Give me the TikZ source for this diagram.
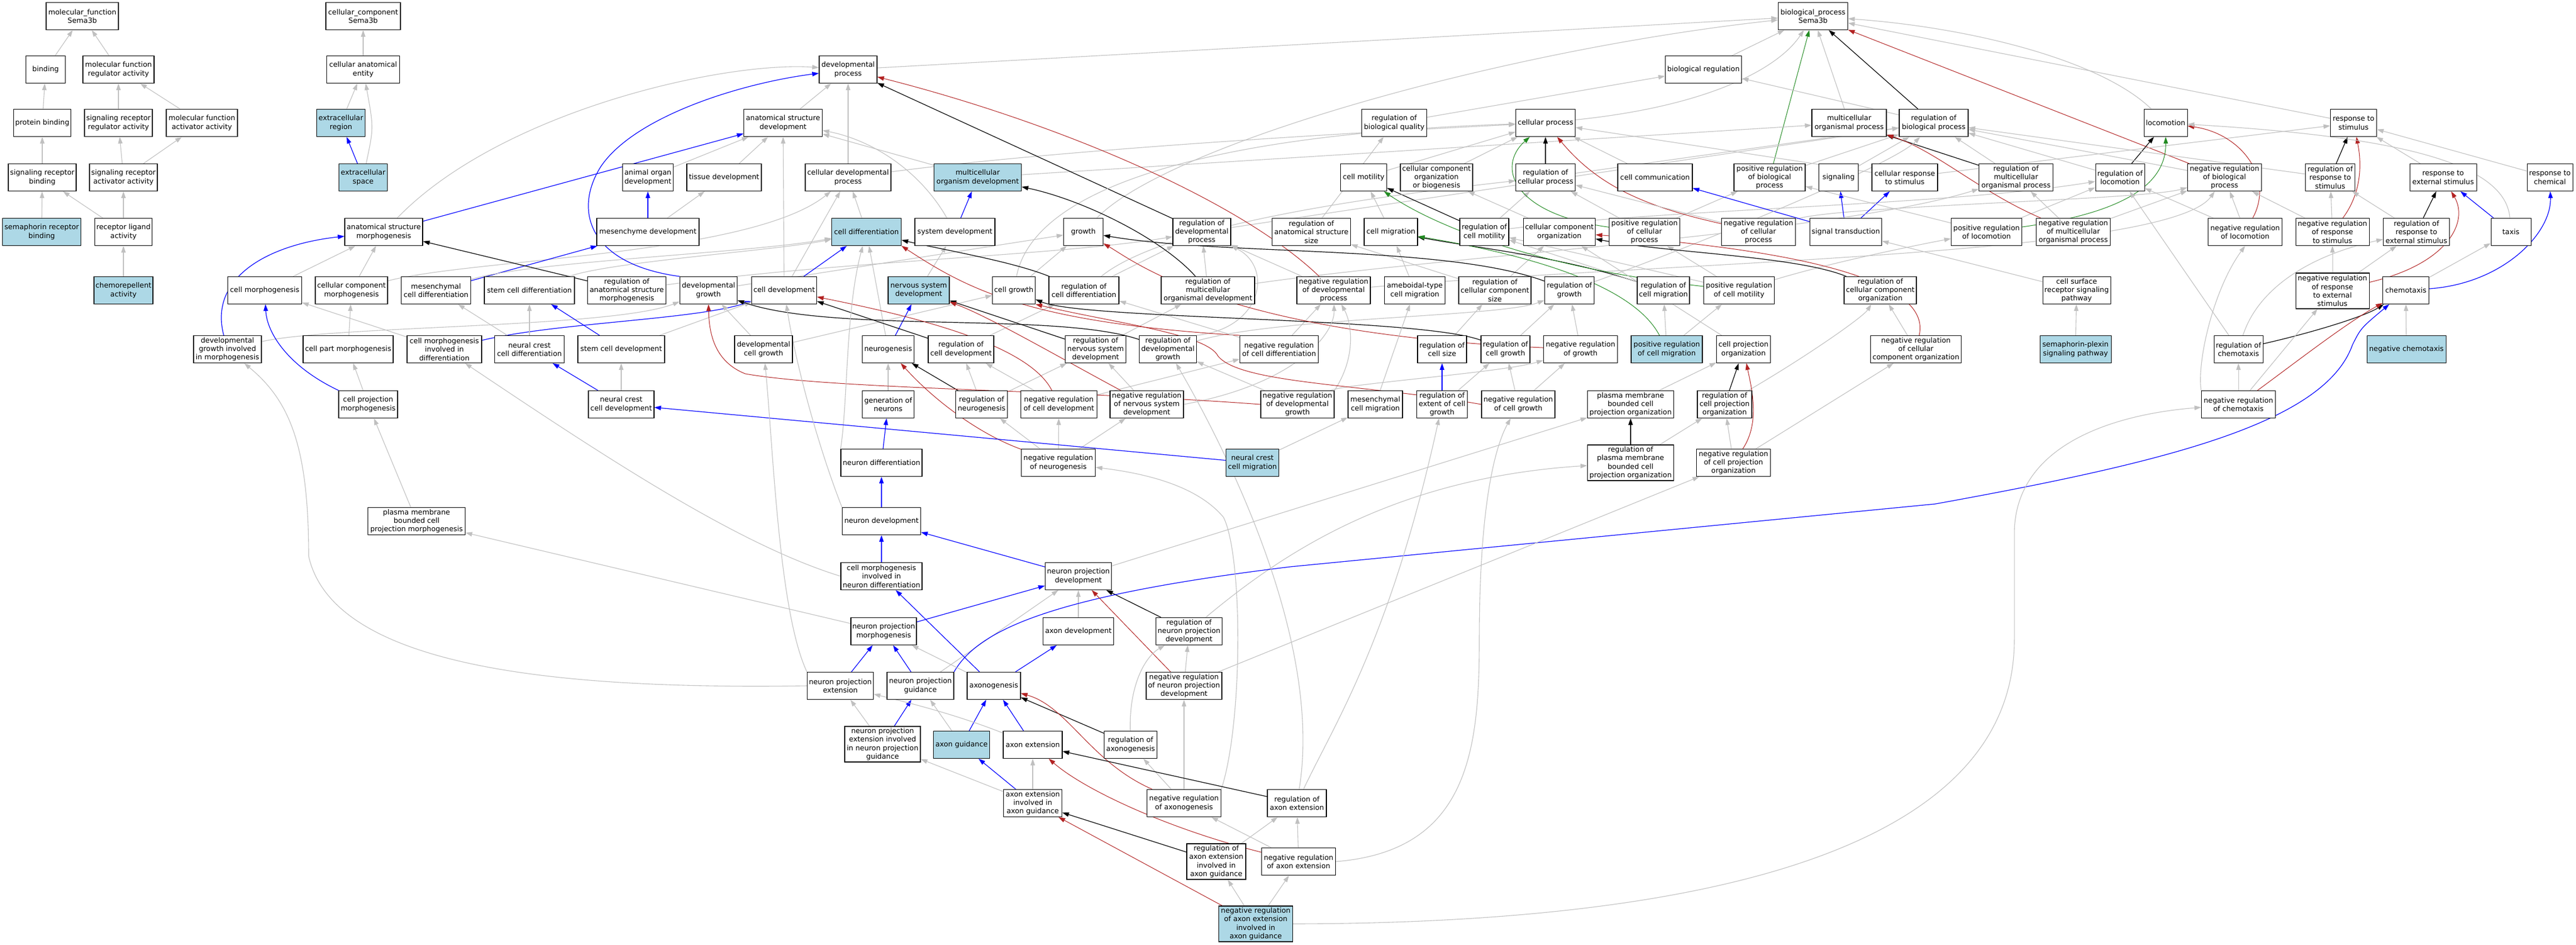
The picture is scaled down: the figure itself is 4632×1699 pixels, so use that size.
\documentclass[tikz,border=0pt]{standalone}
\usepackage{fontspec}
\setmainfont{DejaVu Sans}
\usetikzlibrary{arrows.meta,backgrounds}
\definecolor{egrey}{RGB}{192,192,192}
\definecolor{lb}{RGB}{173,216,230}
\definecolor{ered}{RGB}{178,34,34}
\definecolor{egreen}{RGB}{34,139,34}
\newcommand\gofont{\fontsize{12.8pt}{15.3pt}\selectfont}
\tikzset{
  box/.style={draw=black, line width=1.1pt, fill=white, align=center, inner xsep=2pt, inner ysep=1pt, minimum height=49pt, font=\gofont},
  hl/.style={box, fill=lb},
  tall/.style={minimum height=64pt},
  isa/.style={draw=egrey, line width=1.1pt, -{Triangle[length=12pt,width=8pt]}},
  po/.style={draw=blue, line width=1.2pt, -{Triangle[length=12pt,width=8pt]}},
  reg/.style={draw=black, line width=1.2pt, -{Triangle[length=12pt,width=8pt]}},
  nreg/.style={draw=ered, line width=1.0pt, -{Triangle[length=12pt,width=8pt]}},
  preg/.style={draw=egreen, line width=1.0pt, -{Triangle[length=12pt,width=8pt]}}
}
\begin{document}
\begin{tikzpicture}[x=1pt,y=-1pt]
\useasboundingbox (0,0) rectangle (4632,1699);
% row 0
\node[box,minimum width=130pt] (mf) at (148,29) {molecular\_function\\Sema3b};
\node[box,minimum width=134pt] (cc) at (653,29) {cellular\_component\\Sema3b};
\node[box,minimum width=125pt] (bp) at (3260,29) {biological\_process\\Sema3b};
% row 1
\node[box,minimum width=71pt] (bind) at (82,125) {binding};
\node[box,minimum width=128pt] (mfra) at (213,125) {molecular function\\regulator activity};
\node[box,minimum width=131pt] (cae) at (653,125) {cellular anatomical\\entity};
\node[box,minimum width=104pt] (devp) at (1525,125) {developmental\\process};
\node[box,minimum width=137pt] (bioreg) at (3063,125) {biological regulation};
% row 2
\node[box,minimum width=103pt] (pbind) at (76,221) {protein binding};
\node[box,minimum width=122pt] (srra) at (213,221) {signaling receptor\\regulator activity};
\node[box,minimum width=128pt] (mfaa) at (363,221) {molecular function\\activator activity};
\node[hl,minimum width=87pt] (ecr) at (613,221) {extracellular\\region};
\node[box,minimum width=141pt] (asd) at (1408,221) {anatomical structure\\development};
\node[box,minimum width=117pt] (rbq) at (2507,221) {regulation of\\biological quality};
\node[box,minimum width=107pt] (cellp) at (2779,221) {cellular process};
\node[box,minimum width=134pt] (mop) at (3325,221) {multicellular\\organismal process};
\node[box,minimum width=124pt] (rbp) at (3477,221) {regulation of\\biological process};
\node[box,minimum width=78pt] (loco) at (3894,221) {locomotion};
\node[box,minimum width=83pt] (rstim) at (4232,221) {response to\\stimulus};
% row 3
\node[box,minimum width=122pt] (srb) at (76,319) {signaling receptor\\binding};
\node[box,minimum width=122pt] (sraa) at (222,319) {signaling receptor\\activator activity};
\node[hl,minimum width=87pt] (ecs) at (653,319) {extracellular\\space};
\node[box,minimum width=91pt] (aod) at (1165,319) {animal organ\\development};
\node[box,minimum width=134pt] (tisd) at (1302,319) {tissue development};
\node[box,minimum width=154pt] (cdp) at (1525,319) {cellular developmental\\process};
\node[hl,minimum width=157pt] (mod) at (1758,319) {multicellular\\organism development};
\node[box,minimum width=83pt] (cmot) at (2452,319) {cell motility};
\node[box,minimum width=130pt] (ccob) at (2583,319) {cellular component\\organization\\or biogenesis};
\node[box,minimum width=107pt] (rcp) at (2779,319) {regulation of\\cellular process};
\node[box,minimum width=134pt] (ccom) at (2976,319) {cell communication};
\node[box,minimum width=128pt] (prbp) at (3182,319) {positive regulation\\of biological\\process};
\node[box,minimum width=71pt] (sig) at (3306,319) {signaling};
\node[box,minimum width=118pt] (crs) at (3425,319) {cellular response\\to stimulus};
\node[box,minimum width=133pt] (rmop) at (3625,319) {regulation of\\multicellular\\organismal process};
\node[box,minimum width=88pt] (rloc) at (3812,319) {regulation of\\locomotion};
\node[box,minimum width=133pt] (nrbp) at (4000,319) {negative regulation\\of biological\\process};
\node[box,minimum width=89pt] (rrs) at (4190,319) {regulation of\\response to\\stimulus};
\node[box,minimum width=120pt] (res) at (4393,319) {response to\\external stimulus};
\node[box,minimum width=82pt] (rchem) at (4585,319) {response to\\chemical};
% row 4
\node[hl,minimum width=141pt] (srbind) at (75,417) {semaphorin receptor\\binding};
\node[box,minimum width=103pt] (rla) at (222,417) {receptor ligand\\activity};
\node[box,minimum width=140pt] (asm) at (690,417) {anatomical structure\\morphogenesis};
\node[box,minimum width=184pt] (mesd) at (1165,417) {mesenchyme development};
\node[hl,minimum width=125pt] (cdiff) at (1558,417) {cell differentiation};
\node[box,minimum width=144pt] (sysd) at (1717,417) {system development};
\node[box,minimum width=71pt] (growth) at (1948,417) {growth};
\node[box,minimum width=104pt] (rdp) at (2161,417) {regulation of\\developmental\\process};
\node[box,minimum width=141pt] (rass) at (2358,417) {regulation of\\anatomical structure\\size};
\node[box,minimum width=96pt] (cmig) at (2501,417) {cell migration};
\node[box,minimum width=88pt] (rcmot) at (2669,417) {regulation of\\cell motility};
\node[box,minimum width=129pt] (cco) at (2804,417) {cellular component\\organization};
\node[box,minimum width=127pt] (prcp) at (2957,417) {positive regulation\\of cellular\\process};
\node[box,minimum width=133pt] (nrcp) at (3162,417) {negative regulation\\of cellular\\process};
\node[box,minimum width=129pt] (st) at (3319,417) {signal transduction};
\node[box,minimum width=127pt] (prloc) at (3572,417) {positive regulation\\of locomotion};
\node[box,minimum width=133pt] (nrmop) at (3728,417) {negative regulation\\of multicellular\\organismal process};
\node[box,minimum width=133pt] (nrloc) at (4037,417) {negative regulation\\of locomotion};
\node[box,minimum width=132pt] (nrrs) at (4194,417) {negative regulation\\of response\\to stimulus};
\node[box,minimum width=119pt] (rres) at (4345,417) {regulation of\\response to\\external stimulus};
\node[box,minimum width=72pt] (taxis) at (4515,417) {taxis};
% row 5
\node[hl,minimum width=106pt] (chemo) at (222,522) {chemorepellent\\activity};
\node[box,minimum width=133pt] (cm) at (476,522) {cell morphogenesis};
\node[box,minimum width=130pt] (ccm) at (632,522) {cellular component\\morphogenesis};
\node[box,minimum width=125pt] (mcd) at (784,522) {mesenchymal\\cell differentiation};
\node[box,minimum width=162pt] (scd) at (952,522) {stem cell differentiation};
\node[box,minimum width=141pt] (rasm) at (1127,522) {regulation of\\anatomical structure\\morphogenesis};
\node[box,minimum width=103pt] (devg) at (1274,522) {developmental\\growth};
\node[box,minimum width=117pt] (celld) at (1410,522) {cell development};
\node[hl,minimum width=110pt] (nsd) at (1652,522) {nervous system\\development};
\node[box,minimum width=77pt] (cg) at (1823,522) {cell growth};
\node[box,minimum width=126pt] (rcd) at (1949,522) {regulation of\\cell differentiation};
\node[box,minimum width=168pt] (rmod) at (2172,522) {regulation of\\multicellular\\organismal development};
\node[box,minimum width=132pt] (nrdp) at (2398,522) {negative regulation\\of developmental\\process};
\node[box,minimum width=109pt] (ameb) at (2544,522) {ameboidal-type\\cell migration};
\node[box,minimum width=130pt] (rccs) at (2688,522) {regulation of\\cellular component\\size};
\node[box,minimum width=89pt] (rgrowth) at (2822,522) {regulation of\\growth};
\node[box,minimum width=94pt] (rcmig) at (2991,522) {regulation of\\cell migration};
\node[box,minimum width=127pt] (prcmot) at (3127,522) {positive regulation\\of cell motility};
\node[box,minimum width=130pt] (rcco) at (3381,522) {regulation of\\cellular component\\organization};
\node[box,minimum width=122pt] (csrsp) at (3734,522) {cell surface\\receptor signaling\\pathway};
\node[box,tall,minimum width=132pt] (nrres) at (4194,523) {negative regulation\\of response\\to external\\stimulus};
\node[box,minimum width=83pt] (chemotaxis) at (4326,522) {chemotaxis};
% row 6
\node[box,minimum width=122pt] (dgim) at (409,628) {developmental\\growth involved\\in morphogenesis};
\node[box,minimum width=162pt] (cpm) at (626,628) {cell part morphogenesis};
\node[box,minimum width=134pt] (cmid) at (799,628) {cell morphogenesis\\involved in\\differentiation};
\node[box,minimum width=125pt] (nccd) at (952,628) {neural crest\\cell differentiation};
\node[box,minimum width=156pt] (scdev) at (1117,628) {stem cell development};
\node[box,minimum width=104pt] (dcg) at (1373,628) {developmental\\cell growth};
\node[box,minimum width=93pt] (neurog) at (1597,628) {neurogenesis};
\node[box,minimum width=118pt] (rcdev) at (1728,628) {regulation of\\cell development};
\node[box,minimum width=109pt] (rnsd) at (1970,628) {regulation of\\nervous system\\development};
\node[box,minimum width=103pt] (rdg) at (2100,628) {regulation of\\developmental\\growth};
\node[box,minimum width=141pt] (nrcd) at (2300,628) {negative regulation\\of cell differentiation};
\node[box,minimum width=88pt] (rcs) at (2593,628) {regulation of\\cell size};
\node[box,minimum width=88pt] (rcg) at (2707,628) {regulation of\\cell growth};
\node[box,minimum width=133pt] (nrg) at (2842,628) {negative regulation\\of growth};
\node[hl,minimum width=128pt] (prcmig) at (2997,628) {positive regulation\\of cell migration};
\node[box,minimum width=97pt] (cpo) at (3135,628) {cell projection\\organization};
\node[box,minimum width=163pt] (nrcco) at (3445,628) {negative regulation\\of cellular\\component organization};
\node[hl,minimum width=128pt] (spsp) at (3732,628) {semaphorin-plexin\\signaling pathway};
\node[box,minimum width=88pt] (rchemo) at (4025,628) {regulation of\\chemotaxis};
\node[hl,minimum width=142pt] (negchemo) at (4327,628) {negative chemotaxis};
% row 7
\node[box,minimum width=106pt] (cprojm) at (662,727) {cell projection\\morphogenesis};
\node[box,minimum width=118pt] (nccdev) at (1117,727) {neural crest\\cell development};
\node[box,minimum width=93pt] (genn) at (1597,727) {generation of\\neurons};
\node[box,minimum width=93pt] (rneurog) at (1765,727) {regulation of\\neurogenesis};
\node[box,minimum width=137pt] (nrcdev) at (1904,727) {negative regulation\\of cell development};
\node[box,minimum width=132pt] (nrnsd) at (2062,727) {negative regulation\\of nervous system\\development};
\node[box,minimum width=132pt] (nrdg) at (2333,727) {negative regulation\\of developmental\\growth};
\node[box,minimum width=98pt] (mcm) at (2473,727) {mesenchymal\\cell migration};
\node[box,minimum width=91pt] (recg) at (2593,727) {regulation of\\extent of cell\\growth};
\node[box,minimum width=132pt] (nrcg) at (2730,727) {negative regulation\\of cell growth};
\node[box,minimum width=155pt] (pmbcpo) at (2932,727) {plasma membrane\\bounded cell\\projection organization};
\node[box,minimum width=98pt] (rcpo) at (3101,727) {regulation of\\cell projection\\organization};
\node[box,minimum width=133pt] (nrchemo) at (4025,727) {negative regulation\\of chemotaxis};
% row 8
\node[box,minimum width=146pt] (nd) at (1585,832) {neuron differentiation};
\node[box,minimum width=133pt] (nrneurog) at (1903,832) {negative regulation\\of neurogenesis};
\node[hl,minimum width=95pt] (nccm) at (2252,832) {neural crest\\cell migration};
\node[box,tall,minimum width=155pt] (rpmbcpo) at (2932,832) {regulation of\\plasma membrane\\bounded cell\\projection organization};
\node[box,minimum width=133pt] (nrcpo) at (3117,832) {negative regulation\\of cell projection\\organization};
% row 9
\node[box,minimum width=175pt] (pmbcpm) at (749,937) {plasma membrane\\bounded cell\\projection morphogenesis};
\node[box,minimum width=141pt] (ndev) at (1585,937) {neuron development};
% row 10
\node[box,minimum width=146pt] (cmind) at (1585,1036) {cell morphogenesis\\involved in\\neuron differentiation};
\node[box,minimum width=119pt] (npd) at (1939,1036) {neuron projection\\development};
% row 11
\node[box,minimum width=118pt] (npm) at (1589,1135) {neuron projection\\morphogenesis};
\node[box,minimum width=127pt] (axd) at (1939,1135) {axon development};
\node[box,minimum width=119pt] (rnpd) at (2138,1135) {regulation of\\neuron projection\\development};
% row 12
\node[box,minimum width=119pt] (npe) at (1511,1233) {neuron projection\\extension};
\node[box,minimum width=120pt] (npg) at (1655,1233) {neuron projection\\guidance};
\node[box,minimum width=96pt] (axg) at (1787,1233) {axonogenesis};
\node[box,minimum width=136pt] (nrnpd) at (2129,1233) {negative regulation\\of neuron projection\\development};
% row 13
\node[box,tall,minimum width=136pt] (npeinpg) at (1587,1338) {neuron projection\\extension involved\\in neuron projection\\guidance};
\node[hl,minimum width=101pt] (axguid) at (1729,1339) {axon guidance};
\node[box,minimum width=106pt] (axe) at (1857,1339) {axon extension};
\node[box,minimum width=95pt] (raxg) at (2033,1339) {regulation of\\axonogenesis};
% row 14
\node[box,minimum width=105pt] (axeiag) at (1857,1444) {axon extension\\involved in\\axon guidance};
\node[box,minimum width=133pt] (nraxg) at (2129,1444) {negative regulation\\of axonogenesis};
\node[box,minimum width=106pt] (raxe) at (2332,1444) {regulation of\\axon extension};
% row 15
\node[box,tall,minimum width=106pt] (raxeiag) at (2187,1549) {regulation of\\axon extension\\involved in\\axon guidance};
\node[box,minimum width=133pt] (nraxe) at (2335,1549) {negative regulation\\of axon extension};
% row 16
\node[hl,tall,minimum width=133pt] (nraxeiag) at (2258,1661) {negative regulation\\of axon extension\\involved in\\axon guidance};

\begin{pgfonlayer}{background}
\fill[white] (0,0) rectangle (4632,1699);
% MF
\draw[isa] (bind) -- (mf);
\draw[isa] (mfra) -- (mf);
\draw[isa] (pbind) -- (bind);
\draw[isa] (srra) -- (mfra);
\draw[isa] (mfaa) -- (mfra);
\draw[isa] (srb) -- (pbind);
\draw[isa] (sraa) -- (srra);
\draw[isa] (sraa) -- (mfaa);
\draw[isa] (srbind) -- (srb);
\draw[isa] (rla) -- (srb);
\draw[isa] (rla) -- (sraa);
\draw[isa] (chemo) -- (rla);
% CC
\draw[isa] (cae) -- (cc);
\draw[isa] (ecr) -- (cae);
\draw[isa] (ecs) .. controls (672,230) .. (cae);
\draw[po] (ecs) -- (ecr);
% top
\draw[isa] (devp) -- (bp);
\draw[isa] (growth) .. controls (2100,260) and (2700,90) .. (bp);
\draw[isa] (bioreg) -- (bp);
\draw[isa] (cellp) .. controls (3080,190) and (3200,120) .. (bp);
\draw[isa] (mop) -- (bp);
\draw[reg] (rbp) -- (bp);
\draw[nreg] (nrbp) -- (bp);
\draw[preg] (prbp) -- (bp);
\draw[isa] (loco) .. controls (3780,110) and (3550,50) .. (bp);
\draw[isa] (rstim) -- (bp);
% row 2
\draw[isa] (asd) -- (devp);
\draw[isa] (rbq) -- (bioreg);
\draw[isa] (rbp) -- (bioreg);
% row 3
\draw[isa] (aod) -- (asd);
\draw[isa] (tisd) -- (asd);
\draw[isa] (cdp) -- (devp);
\draw[isa] (cdp) .. controls (1900,270) and (2400,240) .. (cellp);
\draw[isa] (mod) -- (asd);
\draw[isa] (mod) -- (mop);
\draw[isa] (cmot) -- (cellp);
\draw[isa] (ccob) -- (cellp);
\draw[reg] (rcp) -- (cellp);
\draw[isa] (rcp) -- (rbp);
\draw[isa] (ccom) -- (cellp);
\draw[isa] (prbp) -- (rbp);
\draw[isa] (sig) -- (rbp);
\draw[isa] (crs) -- (rstim);
\draw[isa] (crs) -- (cellp);
\draw[reg] (rmop) -- (mop);
\draw[isa] (rmop) -- (rbp);
\draw[reg] (rloc) -- (loco);
\draw[isa] (rloc) -- (rbp);
\draw[isa] (nrbp) -- (rbp);
\draw[reg] (rrs) -- (rstim);
\draw[isa] (rrs) -- (rbp);
\draw[isa] (res) -- (rstim);
\draw[isa] (rchem) -- (rstim);
% row 4
\draw[po] (asm) -- (asd);
\draw[isa] (asm) .. controls (900,200) and (1300,110) .. (devp);
\draw[po] (mesd) -- (aod);
\draw[isa] (mesd) -- (tisd);
\draw[isa] (cdiff) -- (cdp);
\draw[po] (sysd) -- (mod);
\draw[isa] (sysd) .. controls (1650,300) and (1560,250) .. (asd);
\draw[reg] (rdp) -- (devp);
\draw[isa] (rdp) -- (rbp);
\draw[isa] (rass) -- (rbq);
\draw[isa] (cmig) -- (cmot);
\draw[reg] (rcmot) -- (cmot);
\draw[isa] (rcmot) -- (rcp);
\draw[isa] (rcmot) .. controls (3000,375) and (3500,370) .. (rloc);
\draw[isa] (cco) -- (ccob);
\draw[preg] (prcp) .. controls (2720,385) and (2690,300) .. (cellp);
\draw[isa] (prcp) -- (rcp);
\draw[isa] (prcp) -- (prbp);
\draw[nreg] (nrcp) .. controls (2950,370) and (2870,330) .. (cellp);
\draw[isa] (nrcp) -- (rcp);
\draw[isa] (nrcp) .. controls (3300,370) and (3850,360) .. (nrbp);
\draw[po] (st) -- (ccom);
\draw[po] (st) -- (sig);
\draw[po] (st) -- (crs);
\draw[preg] (prloc) .. controls (3800,385) and (3895,340) .. (loco);
\draw[isa] (prloc) -- (rloc);
\draw[isa] (prloc) -- (prbp);
\draw[nreg] (nrmop) .. controls (3560,345) and (3480,270) .. (mop);
\draw[isa] (nrmop) -- (rmop);
\draw[isa] (nrmop) -- (nrbp);
\draw[nreg] (nrloc) .. controls (4090,320) and (4030,240) .. (loco);
\draw[isa] (nrloc) -- (rloc);
\draw[isa] (nrloc) -- (nrbp);
\draw[nreg] (nrrs) .. controls (4244,350) and (4248,300) .. (rstim);
\draw[isa] (nrrs) -- (rrs);
\draw[isa] (nrrs) -- (nrbp);
\draw[isa] (rres) -- (rrs);
\draw[reg] (rres) -- (res);
\draw[po] (taxis) -- (res);
\draw[isa] (taxis) .. controls (4505,290) and (4300,245) .. (loco);
% row 5
\draw[isa] (cm) -- (asm);
\draw[isa] (ccm) .. controls (850,465) and (1350,460) .. (cdp);
\draw[isa] (ccm) -- (asm);
\draw[po] (mcd) -- (mesd);
\draw[isa] (mcd) .. controls (950,470) and (1350,455) .. (cdiff);
\draw[isa] (scd) .. controls (1100,470) and (1400,450) .. (cdiff);
\draw[reg] (rasm) -- (asm);
\draw[isa] (rasm) .. controls (1500,470) and (1900,460) .. (rdp);
\draw[isa] (devg) -- (growth);
\draw[po] (devg.north west) .. controls (1060,475) and (1030,380) .. (1080,300) .. controls (1140,210) and (1330,150) .. (devp);
\draw[po] (celld) -- (cdiff);
\draw[isa] (celld) -- (asd);
\draw[isa] (celld) -- (cdp);
\draw[isa] (nsd) -- (sysd);
\draw[isa] (cg) -- (growth);
\draw[isa] (cg) .. controls (1860,330) and (2200,240) .. (cellp);
\draw[reg] (rcd) .. controls (1820,470) and (1700,450) .. (cdiff);
\draw[isa] (rcd) -- (rdp);
\draw[isa] (rcd) .. controls (2100,400) and (2500,350) .. (rcp);
\draw[reg] (rmod) .. controls (2090,430) and (1950,360) .. (mod);
\draw[isa] (rmod) -- (rdp);
\draw[isa] (rmod) .. controls (2600,460) and (3300,420) .. (rmop);
\draw[nreg] (nrdp) .. controls (2230,360) and (1900,220) .. (devp);
\draw[isa] (nrdp) -- (rdp);
\draw[isa] (nrdp) .. controls (3000,470) and (3900,460) .. (nrbp);
\draw[isa] (ameb) -- (cmig);
\draw[isa] (rccs) -- (rass);
\draw[isa] (rccs) -- (cco);
\draw[reg] (rgrowth) .. controls (2600,440) and (2200,460) .. (growth);
\draw[isa] (rgrowth) .. controls (3000,460) and (3400,300) .. (rbp);
\draw[reg] (rcmig) .. controls (2800,460) and (2650,445) .. (cmig);
\draw[isa] (rcmig) -- (rcmot);
\draw[preg] (prcmot) .. controls (2750,480) and (2570,400) .. (cmot);
\draw[isa] (prcmot) -- (rcmot);
\draw[isa] (prcmot) .. controls (3300,470) and (3450,440) .. (prloc);
\draw[isa] (prcmot) -- (prcp);
\draw[reg] (rcco) .. controls (3230,460) and (3000,455) .. (cco);
\draw[isa] (csrsp) -- (st);
\draw[nreg] (nrres) .. controls (4400,475) and (4440,400) .. (res);
\draw[isa] (nrres) -- (rres);
\draw[isa] (nrres) -- (nrrs);
\draw[isa] (chemotaxis) -- (taxis);
\draw[po] (chemotaxis) .. controls (4500,510) and (4588,420) .. (rchem);
% row 6
\draw[po] (dgim) .. controls (375,500) and (480,440) .. (asm);
\draw[isa] (dgim) .. controls (600,585) and (1100,590) .. (devg);
\draw[isa] (cpm) -- (ccm);
\draw[isa] (cmid) -- (cm);
\draw[po] (cmid) .. controls (1000,580) and (1250,575) .. (celld);
\draw[isa] (nccd) -- (mcd);
\draw[isa] (nccd) -- (scd);
\draw[po] (scdev) -- (scd);
\draw[isa] (scdev) -- (celld);
\draw[isa] (dcg) -- (cg);
\draw[isa] (dcg) -- (devg);
\draw[po] (neurog) -- (nsd);
\draw[isa] (neurog) -- (cdiff);
\draw[reg] (rcdev) -- (celld);
\draw[isa] (rcdev) -- (rcd);
\draw[reg] (rnsd) -- (nsd);
\draw[isa] (rnsd) -- (rmod);
\draw[reg] (rdg) .. controls (1900,560) and (1500,600) .. (devg);
\draw[isa] (rdg) .. controls (2300,570) and (2700,570) .. (rgrowth);
\draw[isa] (rdg.north east) .. controls (2270,590) and (2290,480) .. (rdp.south east);
\draw[nreg] (nrcd.north west) .. controls (1850,580) and (1740,520) .. (cdiff.south east);
\draw[isa] (nrcd) -- (rcd);
\draw[isa] (nrcd) -- (nrdp);
\draw[isa] (rcs) -- (rccs);
\draw[reg] (rcg) .. controls (2550,570) and (1950,575) .. (cg);
\draw[isa] (rcg) -- (rgrowth);
\draw[nreg] (nrg) .. controls (2200,600) and (2040,470) .. (growth);
\draw[isa] (nrg) -- (rgrowth);
\draw[preg] (prcmig) .. controls (2930,500) and (2700,450) .. (cmig);
\draw[isa] (prcmig) -- (rcmig);
\draw[isa] (prcmig) -- (prcmot);
\draw[isa] (cpo) -- (cco);
\draw[nreg] (nrcco) .. controls (3480,480) and (3100,440) .. (cco);
\draw[isa] (nrcco) -- (rcco);
\draw[isa] (spsp) -- (csrsp);
\draw[reg] (rchemo) .. controls (4150,600) and (4250,570) .. (chemotaxis);
\draw[isa] (rchemo) -- (rloc);
\draw[isa] (rchemo) .. controls (4060,520) and (4150,460) .. (rres);
\draw[isa] (negchemo) -- (chemotaxis);
% row 7
\draw[po] (cprojm) .. controls (520,660) and (480,600) .. (cm);
\draw[isa] (cprojm) -- (cpm);
\draw[po] (nccdev) -- (nccd);
\draw[isa] (nccdev) -- (scdev);
\draw[isa] (genn) -- (neurog);
\draw[reg] (rneurog) -- (neurog);
\draw[isa] (rneurog) -- (rcdev);
\draw[isa] (rneurog) -- (rnsd);
\draw[nreg] (nrcdev) .. controls (1850,620) and (1650,570) .. (celld);
\draw[isa] (nrcdev) -- (rcdev);
\draw[isa] (nrcdev) -- (nrcd);
\draw[nreg] (nrnsd) .. controls (1900,640) and (1780,570) .. (nsd);
\draw[isa] (nrnsd) -- (rnsd);
\draw[isa] (nrnsd.east) .. controls (2330,690) and (2400,600) .. (nrdp);
\draw[nreg] (nrdg.west) .. controls (1900,700) and (1500,700) .. (1340,672) .. controls (1285,650) and (1275,600) .. (devg.south);
\draw[isa] (nrdg) -- (rdg);
\draw[isa] (nrdg.north east) .. controls (2440,640) and (2430,580) .. (nrdp);
\draw[isa] (nrdg) .. controls (2420,690) and (2700,670) .. (nrg);
\draw[isa] (mcm) -- (ameb);
\draw[po] (recg) -- (rcs);
\draw[isa] (recg) -- (rcg);
\draw[nreg] (nrcg.west) .. controls (2450,690) and (2230,690) .. (2190,640) .. controls (2170,600) and (2000,580) .. (cg.south east);
\draw[isa] (nrcg) -- (rcg);
\draw[isa] (nrcg) -- (nrg);
\draw[isa] (pmbcpo) -- (cpo);
\draw[reg] (rcpo) -- (cpo);
\draw[isa] (rcpo) .. controls (3250,640) and (3350,570) .. (rcco);
\draw[nreg] (nrchemo) .. controls (4130,650) and (4220,580) .. (chemotaxis);
\draw[isa] (nrchemo) -- (rchemo);
\draw[isa] (nrchemo.north west) .. controls (3950,650) and (3980,520) .. (nrloc.south);
\draw[isa] (nrchemo) -- (nrres);
% row 8
\draw[po] (nd) -- (genn);
\draw[isa] (nd.north west) .. controls (1525,720) and (1520,560) .. (cdiff);
\draw[nreg] (nrneurog) .. controls (1760,780) and (1680,720) .. (neurog);
\draw[isa] (nrneurog) -- (rneurog);
\draw[isa] (nrneurog) -- (nrcdev);
\draw[isa] (nrneurog) -- (nrnsd);
\draw[po] (nccm) -- (nccdev);
\draw[isa] (nccm) -- (mcm);
\draw[reg] (rpmbcpo) -- (pmbcpo);
\draw[isa] (rpmbcpo) -- (rcpo);
\draw[nreg] (nrcpo) .. controls (3165,760) and (3150,700) .. (cpo);
\draw[isa] (nrcpo) -- (rcpo);
\draw[isa] (nrcpo) -- (nrcco);
% row 9
\draw[isa] (pmbcpm) -- (cprojm);
\draw[po] (ndev) -- (nd);
\draw[isa] (ndev.north west) .. controls (1470,800) and (1430,650) .. (celld);
% row 10
\draw[po] (cmind) -- (ndev);
\draw[isa] (cmind.west) .. controls (1330,980) and (1100,830) .. (cmid);
\draw[po] (npd) -- (ndev);
\draw[isa] (npd) -- (pmbcpo);
% row 11
\draw[po] (npm) -- (npd);
\draw[isa] (npm) -- (pmbcpm);
\draw[isa] (axd) -- (npd);
\draw[reg] (rnpd) -- (npd);
\draw[isa] (rnpd) .. controls (2300,1000) and (2500,860) .. (rpmbcpo);
% row 12
\draw[po] (npe) -- (npm);
\draw[isa] (npe.north west) .. controls (1400,1100) and (1390,800) .. (dcg);
\draw[isa] (npe.west) .. controls (1000,1240) and (600,1200) .. (555,1000) .. controls (555,800) and (520,720) .. (dgim);
\draw[po] (npg) -- (npm);
\draw[isa] (npg) -- (npd);
\draw[po] (npg.north east) .. controls (1760,1130) and (1900,1070) .. (2320,1019) -- (3480,906) .. controls (3900,830) and (4180,760) .. (4230,620) .. controls (4245,590) .. (chemotaxis);
\draw[po] (axg) -- (axd);
\draw[po] (axg) -- (cmind);
\draw[isa] (axg) -- (npm);
\draw[nreg] (nrnpd) -- (npd);
\draw[isa] (nrnpd) -- (rnpd);
\draw[isa] (nrnpd) -- (nrcpo);
% row 13
\draw[isa] (npeinpg) -- (npe);
\draw[po] (npeinpg) -- (npg);
\draw[isa] (axguid) -- (npg);
\draw[po] (axguid) -- (axg);
\draw[isa] (axe) .. controls (1720,1285) and (1640,1265) .. (npe);
\draw[po] (axe) -- (axg);
\draw[reg] (raxg) -- (axg);
\draw[isa] (raxg) .. controls (2030,1230) and (2060,1180) .. (rnpd);
% row 14
\draw[isa] (axeiag) -- (axe);
\draw[po] (axeiag) -- (axguid);
\draw[isa] (axeiag) -- (npeinpg);
\draw[nreg] (nraxg) .. controls (1960,1370) and (1920,1270) .. (axg);
\draw[isa] (nraxg) -- (raxg);
\draw[isa] (nraxg) -- (nrnpd);
\draw[isa] (nraxg.north east) .. controls (2235,1300) and (2235,1000) .. (2200,930) .. controls (2150,870) and (2050,850) .. (nrneurog);
\draw[reg] (raxe) -- (axe);
\draw[isa] (raxe) .. controls (2400,1300) and (2500,1150) .. (recg);
\draw[isa] (raxe) .. controls (2380,1150) and (2200,800) .. (rdg);
% row 15
\draw[reg] (raxeiag) -- (axeiag);
\draw[isa] (raxeiag) -- (raxe);
\draw[nreg] (nraxe) .. controls (2100,1490) and (1950,1420) .. (axe);
\draw[isa] (nraxe) -- (raxe);
\draw[isa] (nraxe) -- (nraxg);
\draw[isa] (nraxe.east) .. controls (2640,1530) and (2660,1350) .. (2660,1150) .. controls (2660,900) and (2690,800) .. (nrcg);
% row 16
\draw[nreg] (nraxeiag) -- (axeiag);
\draw[isa] (nraxeiag) -- (raxeiag);
\draw[isa] (nraxeiag) -- (nraxe);
\draw[isa] (nraxeiag.east) .. controls (3000,1660) and (3622,1550) .. (3622,1150) -- (3622,960) .. controls (3622,800) and (3800,745) .. (nrchemo);
\end{pgfonlayer}
\end{tikzpicture}
\end{document}
